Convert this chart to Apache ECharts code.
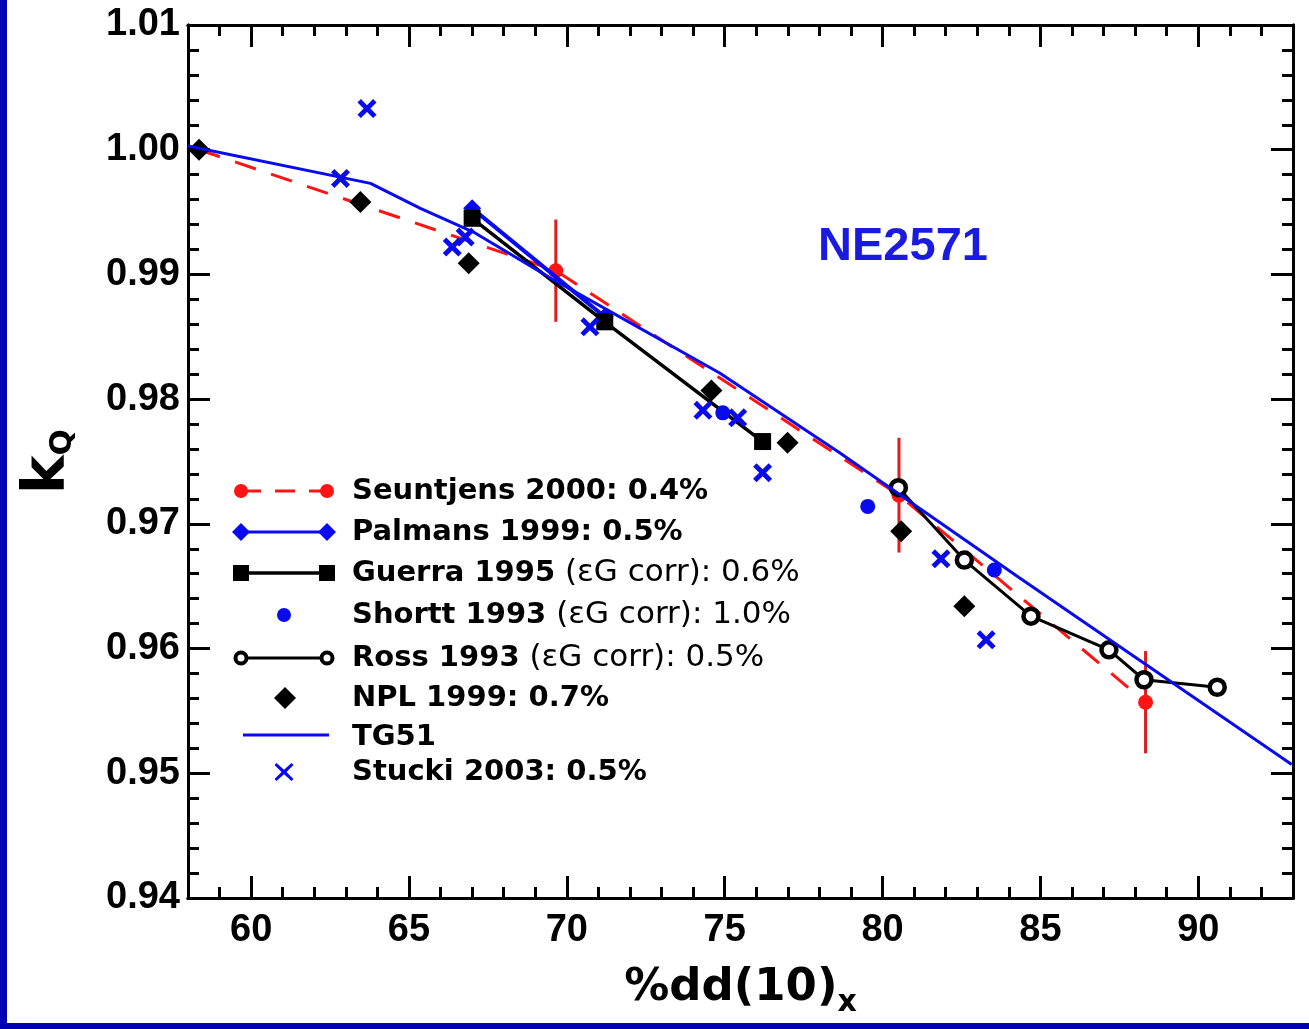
<!DOCTYPE html>
<html>
<head>
<meta charset="utf-8">
<title>kQ for NE2571</title>
<script src="https://cdn.jsdelivr.net/npm/echarts@6/dist/echarts.min.js"></script>
<style>
  html, body { margin: 0; padding: 0; background: #ffffff; }
  #chart { width: 1309px; height: 1029px; }
</style>
</head>
<body>
<div id="chart"></div>
<script>
// ---- data: kQ versus %dd(10)x for the NE2571 chamber ----
const seuntjensX   = [58.35, 69.65, 80.52, 88.33];
const seuntjensY   = [1.0000, 0.9903, 0.9723, 0.9557];
const seuntjensErr = [0, 0.0041, 0.0046, 0.0041];

const palmansX = [67.0, 71.2];
const palmansY = [0.9953, 0.9866];

const guerraX = [67.0, 71.2, 76.2];
const guerraY = [0.9945, 0.9862, 0.9766];

const shorttX = [74.94, 79.53, 83.54];
const shorttY = [0.9789, 0.9714, 0.9663];

const rossX = [80.50, 82.59, 84.70, 87.17, 88.28, 90.60];
const rossY = [0.9729, 0.9671, 0.9626, 0.9599, 0.9575, 0.9569];

const nplX = [58.35, 63.46, 66.89, 74.58, 76.99, 80.59, 82.59];
const nplY = [1.0000, 0.9958, 0.9909, 0.9807, 0.9765, 0.9694, 0.9634];

const tg51X = [58.0, 63.78, 65.36, 67.04, 69.56, 74.84, 78.64, 84.32, 92.96];
const tg51Y = [1.0003, 0.9973, 0.9953, 0.9934, 0.9896, 0.9821, 0.9757, 0.9657, 0.9507];

const stuckiX = [62.83, 63.67, 66.37, 66.78, 70.73, 74.31, 75.41, 76.20, 81.85, 83.28];
const stuckiY = [0.9977, 1.0033, 0.9922, 0.9930, 0.9858, 0.9791, 0.9785, 0.9741, 0.9672, 0.9607];

// axis ticks
const xMajorTicks = [60, 65, 70, 75, 80, 85, 90];
const xMinorTicks = [59, 61, 62, 63, 64, 66, 67, 68, 69, 71, 72, 73, 74, 76, 77, 78, 79,
                     81, 82, 83, 84, 86, 87, 88, 89, 91, 92];
const yMajorTicks = [0.94, 0.95, 0.96, 0.97, 0.98, 0.99, 1.00, 1.01];
const yMinorTicks = [0.942, 0.944, 0.946, 0.948, 0.952, 0.954, 0.956, 0.958,
                     0.962, 0.964, 0.966, 0.968, 0.972, 0.974, 0.976, 0.978,
                     0.982, 0.984, 0.986, 0.988, 0.992, 0.994, 0.996, 0.998,
                     1.002, 1.004, 1.006, 1.008];

const legendLabels = [
  ['Seuntjens 2000: 0.4%', ''],
  ['Palmans 1999: 0.5%', ''],
  ['Guerra 1995', ' (\u03B5G corr): 0.6%'],
  ['Shortt 1993', ' (\u03B5G corr): 1.0%'],
  ['Ross 1993', ' (\u03B5G corr): 0.5%'],
  ['NPL 1999: 0.7%', ''],
  ['TG51', ''],
  ['Stucki 2003: 0.5%', '']
];

// ---- helpers ----
const zip = (xs, ys) => xs.map((x, i) => [x, ys[i]]);
const RED = '#ff1414';
const BAR_RED = '#d81e1e';
const BLUE = '#0a0af0';
const BLACK = '#000000';
const CROSS = 'path://M1.8,0 L5,3.2 L8.2,0 L10,1.8 L6.8,5 L10,8.2 L8.2,10 L5,6.8 L1.8,10 L0,8.2 L3.2,5 L0,1.8 Z';

const LEFT = 188, RIGHT = 1293, TOP = 25, BOTTOM = 898;

function xAxisDef(pos, ticks, len, labels) {
  return {
    type: 'value', min: 58, max: 93, position: pos,
    axisLine: { show: true, onZero: false, lineStyle: { color: BLACK, width: 3 } },
    axisTick: { show: true, inside: true, length: len, customValues: ticks,
                lineStyle: { color: BLACK, width: 3 } },
    axisLabel: labels ? {
      show: true, customValues: ticks, margin: 14, color: BLACK,
      fontFamily: 'Liberation Sans', fontWeight: 'bold', fontSize: 38
    } : { show: false },
    splitLine: { show: false }
  };
}
function yAxisDef(pos, ticks, len, labels) {
  return {
    type: 'value', min: 0.94, max: 1.01, position: pos,
    axisLine: { show: true, onZero: false, lineStyle: { color: BLACK, width: 3 } },
    axisTick: { show: true, inside: true, length: len, customValues: ticks,
                lineStyle: { color: BLACK, width: 3 } },
    axisLabel: labels ? {
      show: true, customValues: ticks, margin: 8, color: BLACK,
      fontFamily: 'Liberation Sans', fontWeight: 'bold', fontSize: 38,
      formatter: v => v.toFixed(2)
    } : { show: false },
    splitLine: { show: false }
  };
}

const xMain = xAxisDef('bottom', xMajorTicks, 22, true);
xMain.name = '{a|%dd(10)}{b|x}';
xMain.nameLocation = 'middle';
xMain.nameGap = 60;
xMain.nameTextStyle = {
  rich: {
    a: { fontFamily: 'DejaVu Sans', fontWeight: 'bold', fontSize: 45, color: BLACK },
    b: { fontFamily: 'DejaVu Sans', fontWeight: 'bold', fontSize: 30, color: BLACK, padding: [30, 0, 0, 0] }
  }
};
const yMain = yAxisDef('left', yMajorTicks, 22, true);
yMain.name = '{a|k}{b|Q}';
yMain.nameLocation = 'middle';
yMain.nameRotate = 90;
yMain.nameGap = 110;
yMain.nameTextStyle = {
  rich: {
    a: { fontFamily: 'DejaVu Sans', fontWeight: 'bold', fontSize: 58, color: BLACK },
    b: { fontFamily: 'DejaVu Sans', fontWeight: 'bold', fontSize: 31, color: BLACK, padding: [28, 0, 0, 0] }
  }
};

// ---- legend, drawn as graphic elements ----
const legendX0 = 241, legendX1 = 327, legendTextX = 352;
const rowY = [491, 532, 573, 615, 658, 698, 735, 772];
const legendFontBold = { fontFamily: 'DejaVu Sans', fontWeight: 'bold', fontSize: 29, fill: BLACK };
const legendFontNorm = { fontFamily: 'DejaVu Sans', fontWeight: 'normal', fontSize: 31, fill: BLACK };

function diamond(cx, cy, r, fill) {
  return { type: 'polygon', shape: { points: [[cx, cy - r], [cx + r, cy], [cx, cy + r], [cx - r, cy]] },
           style: { fill: fill }, z: 101 };
}
function hline(y, x0, x1, color, width, dash) {
  return { type: 'line', shape: { x1: x0, y1: y, x2: x1, y2: y },
           style: { stroke: color, lineWidth: width, lineDash: dash || null }, z: 100 };
}
function crossShape(cx, cy) {
  const p = [[-7.5, -9], [0, -2.2], [7.5, -9], [9.5, -7], [2.5, 0], [9.5, 7],
             [7.5, 9], [0, 2.2], [-7.5, 9], [-9.5, 7], [-2.5, 0], [-9.5, -7]];
  return { type: 'polygon', shape: { points: p.map(q => [cx + q[0], cy + q[1]]) },
           style: { fill: BLUE }, z: 101 };
}
const legendElems = [];
// Seuntjens: red dashed line with dots
legendElems.push(hline(rowY[0], legendX0, legendX1, RED, 3, [20, 14]));
[legendX0, legendX1].forEach(x => legendElems.push({ type: 'circle', shape: { cx: x, cy: rowY[0], r: 7 }, style: { fill: RED }, z: 101 }));
// Palmans: blue line with diamonds
legendElems.push(hline(rowY[1], legendX0, legendX1, BLUE, 3));
[legendX0, legendX1].forEach(x => legendElems.push(diamond(x, rowY[1], 9, BLUE)));
// Guerra: black line with squares
legendElems.push(hline(rowY[2], legendX0, legendX1, BLACK, 3.5));
[legendX0, legendX1].forEach(x => legendElems.push({ type: 'rect', shape: { x: x - 8, y: rowY[2] - 8, width: 16, height: 16 }, style: { fill: BLACK }, z: 101 }));
// Shortt: blue dot
legendElems.push({ type: 'circle', shape: { cx: 284, cy: rowY[3], r: 7 }, style: { fill: BLUE }, z: 101 });
// Ross: black line with open circles
legendElems.push(hline(rowY[4], legendX0, legendX1, BLACK, 3));
[legendX0, legendX1].forEach(x => legendElems.push({ type: 'circle', shape: { cx: x, cy: rowY[4], r: 5.5 }, style: { fill: '#fff', stroke: BLACK, lineWidth: 4 }, z: 101 }));
// NPL: black diamond
legendElems.push(diamond(285, rowY[5], 11, BLACK));
// TG51: plain blue line
legendElems.push(hline(rowY[6], 243, 329, BLUE, 3));
// Stucki: blue cross
legendElems.push(crossShape(284, rowY[7]));
legendLabels.forEach((lab, i) => {
  legendElems.push({
    type: 'text', x: legendTextX, y: rowY[i] + (i === 6 ? 2 : 0), z: 101,
    style: {
      text: '{b|' + lab[0] + '}' + (lab[1] ? '{n|' + lab[1] + '}' : ''),
      verticalAlign: 'middle', align: 'left',
      rich: { b: legendFontBold, n: legendFontNorm }
    }
  });
});

const option = {
  backgroundColor: '#ffffff',
  animation: false,
  grid: { left: LEFT, right: 1309 - RIGHT, top: TOP, bottom: 1029 - BOTTOM },
  xAxis: [
    xMain,
    xAxisDef('bottom', xMinorTicks, 11, false),
    xAxisDef('top', xMajorTicks, 22, false),
    xAxisDef('top', xMinorTicks, 11, false)
  ],
  yAxis: [
    yMain,
    yAxisDef('left', yMinorTicks, 11, false),
    yAxisDef('right', yMajorTicks, 22, false),
    yAxisDef('right', yMinorTicks, 11, false)
  ],
  graphic: [
    // dark blue frame strips along the left and bottom edges
    { type: 'rect', shape: { x: 0, y: 0, width: 7, height: 1029 }, style: { fill: '#0000b4' }, z: 200 },
    { type: 'rect', shape: { x: 0, y: 1023, width: 1309, height: 6 }, style: { fill: '#0000b4' }, z: 200 },
    { type: 'text', x: 903, y: 247, z: 100,
      style: { text: 'NE2571', fill: '#1a1ae0', fontFamily: 'Liberation Sans', fontWeight: 'bold',
               fontSize: 47, align: 'center', verticalAlign: 'middle' } }
  ].concat(legendElems),
  series: [
    {
      name: 'Seuntjens 2000', type: 'line', data: zip(seuntjensX, seuntjensY),
      symbol: 'circle', symbolSize: 15, itemStyle: { color: RED, opacity: 1 },
      lineStyle: { color: RED, width: 3, type: [22, 16] }, z: 2
    },
    {
      name: 'Seuntjens 2000 error', type: 'custom',
      data: seuntjensX.map((x, i) => [x, seuntjensY[i], seuntjensErr[i]]),
      renderItem: function (params, api) {
        const x = api.value(0), y = api.value(1), e = api.value(2);
        if (!e) return null;
        const p1 = api.coord([x, y + e]);
        const p2 = api.coord([x, y - e]);
        return { type: 'line', shape: { x1: p1[0], y1: p1[1], x2: p2[0], y2: p2[1] },
                 style: { stroke: BAR_RED, lineWidth: 3 } };
      }, z: 2
    },
    {
      name: 'Palmans 1999', type: 'line', data: zip(palmansX, palmansY),
      symbol: 'diamond', symbolSize: 18, itemStyle: { color: BLUE, opacity: 1 },
      lineStyle: { color: BLUE, width: 4 }, z: 3
    },
    {
      name: 'Guerra 1995', type: 'line', data: zip(guerraX, guerraY),
      symbol: 'rect', symbolSize: 17, itemStyle: { color: BLACK, opacity: 1 },
      lineStyle: { color: BLACK, width: 3.5 }, z: 4
    },
    {
      name: 'Shortt 1993', type: 'scatter', data: zip(shorttX, shorttY),
      symbol: 'circle', symbolSize: 15, itemStyle: { color: BLUE, opacity: 1 }, z: 5
    },
    {
      name: 'Ross 1993', type: 'line', data: zip(rossX, rossY),
      symbol: 'circle', symbolSize: 15,
      itemStyle: { color: '#ffffff', borderColor: BLACK, borderWidth: 4.5, opacity: 1 },
      lineStyle: { color: BLACK, width: 3 }, z: 6
    },
    {
      name: 'NPL 1999', type: 'scatter', data: zip(nplX, nplY),
      symbol: 'diamond', symbolSize: 22, itemStyle: { color: BLACK, opacity: 1 }, z: 7
    },
    {
      name: 'TG51', type: 'line', data: zip(tg51X, tg51Y), smooth: false,
      symbol: 'none', lineStyle: { color: BLUE, width: 3 }, z: 8
    },
    {
      name: 'Stucki 2003', type: 'scatter', data: zip(stuckiX, stuckiY),
      symbol: CROSS, symbolSize: 19, itemStyle: { color: BLUE, opacity: 1 }, z: 9
    }
  ]
};

const chart = echarts.init(document.getElementById('chart'), null, { renderer: 'canvas' });
chart.setOption(option);
</script>
</body>
</html>
